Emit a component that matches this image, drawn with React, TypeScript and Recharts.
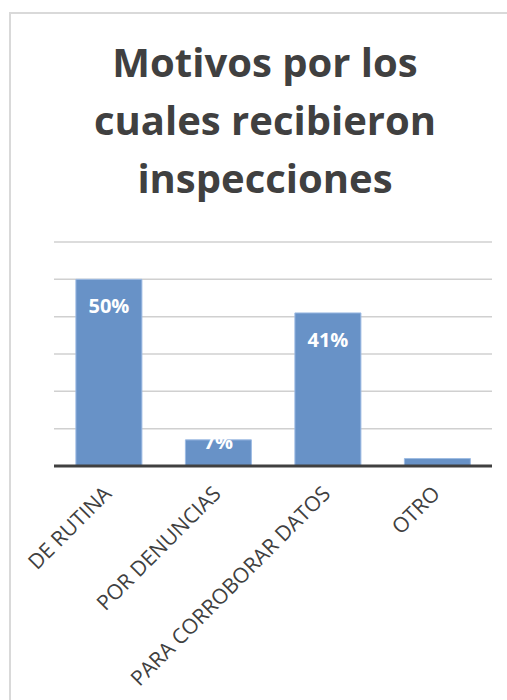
import React from 'react'
import { BarChart, Bar, XAxis, YAxis, CartesianGrid, LabelList } from 'recharts'

const categories = ['DE RUTINA', 'POR DENUNCIAS', 'PARA CORROBORAR DATOS', 'OTRO']
const percents = [0.5, 0.07, 0.41, 0.02]
const yTicks = [0, 0.1, 0.2, 0.3, 0.4, 0.5, 0.6]
const titleLines = ['Motivos por los', 'cuales recibieron', 'inspecciones']

const data = categories.map((name, i) => ({ name, value: percents[i] }))

const FONT = '"Open Sans", "Noto Sans", sans-serif'

const AxisTick = (props: any) => {
  const { x, y, payload } = props
  return (
    <text
      transform={`translate(${x + 4},${y + 21}) rotate(-45)`}
      textAnchor="end"
      fill="#404040"
      fontSize={21}
      fontFamily={FONT}
    >
      {payload.value}
    </text>
  )
}

const ValueLabel = (props: any) => {
  const { x, y, width, height, value } = props
  const baseline = Math.min(y + 34, y + height - 17)
  return (
    <text
      x={x + width / 2}
      y={baseline}
      textAnchor="middle"
      fill="#ffffff"
      fontSize={20}
      fontWeight="bold"
      fontFamily={FONT}
    >
      {Math.round(value * 100) + '%'}
    </text>
  )
}

const App: React.FC = () => {
  return (
    <div style={{ position: 'fixed', left: 0, top: 0, width: 507, height: 700, overflow: 'hidden', background: '#fff' }}>
      <div
        style={{
          position: 'absolute',
          left: 9,
          top: 12,
          width: 620,
          height: 800,
          border: '2px solid #d9d9d9',
        }}
      />
      <div
        style={{
          position: 'absolute',
          left: 0,
          top: 33,
          width: 530,
          textAlign: 'center',
          fontFamily: FONT,
          fontWeight: 'bold',
          fontSize: 40,
          lineHeight: '58px',
          color: '#404040',
        }}
      >
        {titleLines.map((t) => (
          <div key={t}>{t}</div>
        ))}
      </div>
      <div style={{ position: 'absolute', left: 0, top: 0 }}>
        <BarChart
          width={507}
          height={700}
          data={data}
          margin={{ top: 242, right: 15, bottom: 0, left: 54 }}
          barCategoryGap="20%"
        >
          <CartesianGrid vertical={false} stroke="#d0d0d0" strokeWidth={1.5} />
          <YAxis hide width={0} domain={[0, 0.6]} ticks={yTicks} />
          <XAxis
            dataKey="name"
            height={234}
            interval={0}
            tickLine={false}
            axisLine={{ stroke: '#404040', strokeWidth: 3 }}
            tick={<AxisTick />}
          />
          <Bar dataKey="value" fill="#6892c7" stroke="#9dbbe3" strokeWidth={1} isAnimationActive={false}>
            <LabelList dataKey="value" content={<ValueLabel />} />
          </Bar>
        </BarChart>
      </div>
    </div>
  )
}

export default App
